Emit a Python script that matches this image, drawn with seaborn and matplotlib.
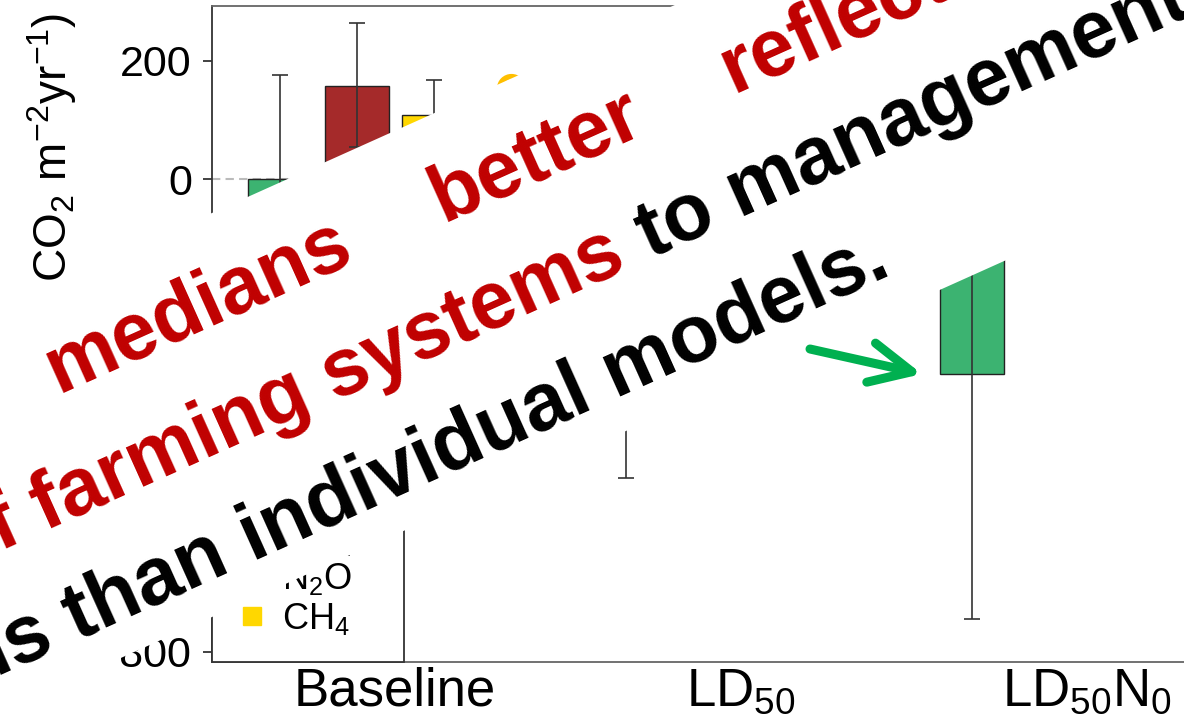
import numpy as np
import pandas as pd
import matplotlib
matplotlib.use("Agg")
import matplotlib.pyplot as plt
import seaborn as sns
from matplotlib.patches import Polygon, FancyArrowPatch
from matplotlib.lines import Line2D

# ---------------- data ----------------
scenarios = ["Baseline", "LD$_{50}$", "LD$_{50}$N$_0$"]
gases = ["CO$_2$", "N$_2$O", "CH$_4$"]
net_name = "Net"

co2 = [-95, -250, -330]
co2_lo = [-260, -505, -745]
co2_hi = [176, 60, 20]

n2o = [158, 150, 110]
n2o_lo = [54, 60, 30]
n2o_hi = [264, 250, 200]

ch4 = [108, 55, 50]
ch4_lo = [55, 25, 20]
ch4_hi = [168, 90, 80]

net = [154, -40, -170]

yticks = [-800, -600, -400, -200, 0, 200]

colors = {"CO$_2$": "#3CB371", "N$_2$O": "#A52A2A", "CH$_4$": "#FFD700", "Net": "#FFBF00"}

overlay_lines = [
    [("medians", "#C00000", (58, 393)), ("better", "#C00000", (443, 222)), ("reflect", "#C00000", (733, 93))],
    [("of farming systems", "#C00000", (-45, 571)), ("to management", "black", (650, 258))],
]
overlay_last = ("interventions than individual models.", "black", (893, 274))

# ---------------- style ----------------
sns.set_theme(style="ticks")
plt.rcParams["font.family"] = ["Liberation Sans", "DejaVu Sans"]
plt.rcParams["mathtext.fontset"] = "custom"
plt.rcParams["mathtext.rm"] = "Liberation Sans"
plt.rcParams["mathtext.it"] = "Liberation Sans:italic"
plt.rcParams["mathtext.bf"] = "Liberation Sans:bold"
for k in ["text.color", "axes.labelcolor", "xtick.color", "ytick.color"]:
    plt.rcParams[k] = "black"

W, H = 1184, 721
fig = plt.figure(figsize=(W / 100, H / 100), dpi=100)
ax = fig.add_axes([212 / W, 1 - 662 / H, (1196 - 212) / W, (662 - 6) / H])

rows = []
vals = {gases[0]: co2, gases[1]: n2o, gases[2]: ch4}
los = {gases[0]: co2_lo, gases[1]: n2o_lo, gases[2]: ch4_lo}
his = {gases[0]: co2_hi, gases[1]: n2o_hi, gases[2]: ch4_hi}
for g in gases:
    for s, v in zip(scenarios, vals[g]):
        rows.append({"scenario": s, "gas": g, "value": v})
df = pd.DataFrame(rows)

hue_order = gases + [net_name]
group_width = 0.89
sns.barplot(data=df, x="scenario", y="value", hue="gas", order=scenarios,
            hue_order=hue_order, palette=colors, width=group_width, gap=0.168,
            saturation=1, edgecolor="#222222", linewidth=1.0, errorbar=None,
            legend=False, ax=ax, zorder=2)

slot = group_width / len(hue_order)
cat_x = np.arange(len(scenarios))
for k, g in enumerate(gases):
    off = -group_width / 2 + slot * (k + 0.5)
    v = np.array(vals[g], dtype=float)
    lo = v - np.array(los[g])
    hi = np.array(his[g]) - v
    ax.errorbar(cat_x + off, v, yerr=[lo, hi], fmt="none", ecolor="#333333",
                elinewidth=1.2, capsize=5.5, capthick=1.2, zorder=3)

net_off = -group_width / 2 + slot * 3.5
ax.plot(cat_x + net_off, net, "o", mfc="none", mec=colors["Net"], ms=17, mew=4,
        zorder=4)

ax.axhline(0, color="#BBBBBB", ls=(0, (4, 2.5)), lw=1.5, zorder=1)

ax.set_xlim(-0.529, 2.314)
ax.set_ylim(-817, 293)
ax.set_yticks(yticks)
ax.set_xlabel("")
ax.tick_params(axis="y", labelsize=31, length=6.5, width=1.3, color="#333333", pad=8)
ax.tick_params(axis="x", labelsize=38, length=0, pad=3)
for side, col in [("left", "#333333"), ("bottom", "#666666"), ("top", "#666666"), ("right", "#666666")]:
    ax.spines[side].set_color(col)
    ax.spines[side].set_linewidth(1.3)

ax.set_ylabel("Net GWP (g  CO$_2$ m$^{-2}$yr$^{-1}$)", fontsize=33, loc="top")
ax.yaxis.set_label_coords(-0.135, 0.99)

handles = [Line2D([], [], marker="o", ls="none", mfc="none", mec=colors["Net"], ms=12, mew=3)]
handles += [Line2D([], [], marker="s", ls="none", color=colors[g], ms=13) for g in gases]
leg = ax.legend(handles, [net_name] + gases, loc="lower left",
                bbox_to_anchor=(0, 0, 192 / 984, 0.3), mode="expand",
                borderaxespad=0, frameon=True, fancybox=False, edgecolor="#333333",
                fontsize=26, labelspacing=0.1, handlelength=0.8,
                handletextpad=0.45, borderpad=0.7)
leg.get_frame().set_linewidth(1.3)
leg.get_frame().set_alpha(1)

# ---------------- overlay banner ----------------
def P(x, y):
    return (x / W, 1 - y / H)

tan = 0.4494
ang = np.degrees(np.arctan(tan))
up = lambda x: 213 - tan * (x - 212)
lw_ = lambda x: 617 - tan * (x - 212)
poly = Polygon([P(-200, up(-200)), P(1400, up(1400)), P(1400, lw_(1400)), P(-200, lw_(-200))],
               closed=True, transform=fig.transFigure, facecolor="white",
               edgecolor="none", zorder=10)
fig.add_artist(poly)

fs_overlay = 58
for line in overlay_lines:
    for s, c, (x, y) in line:
        fig.text(*P(x, y), s, rotation=ang, rotation_mode="anchor", ha="left",
                 va="baseline", fontsize=fs_overlay, fontweight="bold", color=c, zorder=11)
s, c, (x, y) = overlay_last
fig.text(*P(x, y), s, rotation=ang, rotation_mode="anchor", ha="right",
         va="baseline", fontsize=fs_overlay, fontweight="bold", color=c, zorder=11)

arr = FancyArrowPatch(P(810, 349), P(922, 374), transform=fig.transFigure,
                      arrowstyle="->,head_length=0.75,head_width=0.36",
                      mutation_scale=40, lw=6.5, color="#00B050",
                      capstyle="round", joinstyle="round", zorder=12,
                      shrinkA=0, shrinkB=0)
fig.add_artist(arr)

fig.savefig("out.png", dpi=100)
